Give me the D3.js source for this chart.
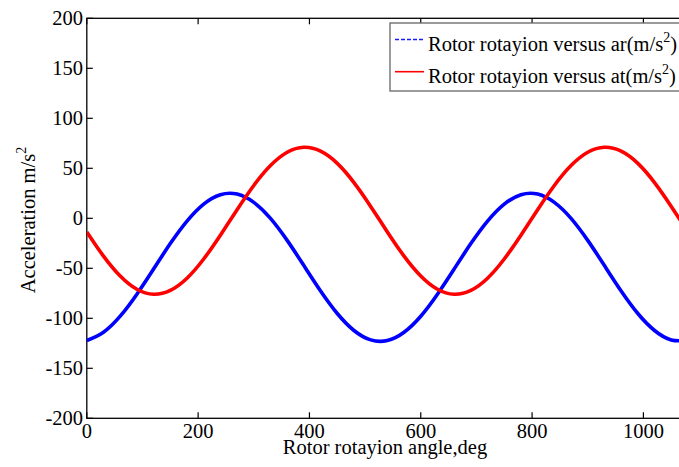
<!DOCTYPE html>
<html><head><meta charset="utf-8">
<script src="https://cdn.jsdelivr.net/npm/d3@7"></script>
<style>body{margin:0;background:#fff}svg{display:block}text{font-family:"Liberation Serif","Times New Roman",serif;fill:#000}</style>
</head><body>
<script>
const angles = [0,30,60,90,120,150,180,210,240,270,300,330,360,390,420,450,480,510,540,570,600,630,660,690,720,750,780,810,840,870,900,930,960,990,1020,1050,1080];
const ar = [-122.2,-113.9,-97.9,-75.9,-50.7,-25.3,-2.8,14.2,23.6,24.2,15.9,-0.1,-22.1,-47.3,-72.7,-95.2,-112.2,-121.6,-122.2,-113.9,-97.9,-75.9,-50.7,-25.3,-2.8,14.2,23.6,24.2,15.9,-0.1,-22.1,-47.3,-72.7,-95.2,-112.2,-121.6,-122.2];
const at = [-13.6,-37.8,-57.7,-71.0,-76.0,-72.1,-59.9,-40.7,-16.9,8.6,32.8,52.7,66.0,71.0,67.1,54.9,35.7,11.9,-13.6,-37.8,-57.7,-71.0,-76.0,-72.1,-59.9,-40.7,-16.9,8.6,32.8,52.7,66.0,71.0,67.1,54.9,35.7,11.9,-13.6];
const xTicks = [0,200,400,600,800,1000];
const yTicks = [-200,-150,-100,-50,0,50,100,150,200];
const legendLabels = ["Rotor rotayion versus ar(m/s", "Rotor rotayion versus at(m/s"];

const W = 679, H = 467;
const svg = d3.select("body").append("svg").attr("width", W).attr("height", H);
const x = d3.scaleLinear().domain([0, 1080]).range([86.8, 86.8 + 1080 * 0.5566]);
const y = d3.scaleLinear().domain([-200, 200]).range([418.3, 18.3]);
const fs = 20.5;

svg.append("defs").append("clipPath").attr("id","clip")
  .append("rect").attr("x", x(0)).attr("y", y(200)).attr("width", x(1080)-x(0)).attr("height", y(-200)-y(200));

// axes box
const g = svg.append("g");
g.append("rect").attr("x", x(0)).attr("y", y(200)).attr("width", x(1080)-x(0)).attr("height", y(-200)-y(200))
  .attr("fill","none").attr("stroke","#000").attr("stroke-width",1.3);

// ticks (inward)
xTicks.forEach(t => {
  g.append("line").attr("x1", x(t)).attr("x2", x(t)).attr("y1", y(-200)).attr("y2", y(-200)-6).attr("stroke","#000").attr("stroke-width",1.2);
  g.append("line").attr("x1", x(t)).attr("x2", x(t)).attr("y1", y(200)).attr("y2", y(200)+6).attr("stroke","#000").attr("stroke-width",1.2);
  g.append("text").attr("x", x(t)).attr("y", 438).attr("text-anchor","middle").attr("font-size", fs).text(t);
});
yTicks.forEach(t => {
  g.append("line").attr("x1", x(0)).attr("x2", x(0)+6).attr("y1", y(t)).attr("y2", y(t)).attr("stroke","#000").attr("stroke-width",1.2);
  g.append("text").attr("x", 83).attr("y", y(t)+7).attr("text-anchor","end").attr("font-size", fs).text(t);
});

// axis labels
g.append("text").attr("x", 385).attr("y", 454).attr("text-anchor","middle").attr("font-size", fs).text("Rotor rotayion angle,deg");
const yl = g.append("text").attr("transform","translate(35,220) rotate(-90)").attr("text-anchor","middle").attr("font-size", fs);
yl.append("tspan").text("Acceleration m/s");
yl.append("tspan").attr("dy",-9).attr("font-size",14).text("2");

// lines
const line = d3.line().x((d,i)=>x(angles[i])).y(d=>y(d)).curve(d3.curveNatural);
const lg = svg.append("g").attr("clip-path","url(#clip)");
lg.append("path").datum(ar).attr("d", line).attr("fill","none").attr("stroke","#0000ff").attr("stroke-width",3.6);
lg.append("path").datum(at).attr("d", line).attr("fill","none").attr("stroke","#ff0000").attr("stroke-width",3.6);

// legend
const leg = svg.append("g");
leg.append("rect").attr("x",390).attr("y",23).attr("width",310).attr("height",68).attr("fill","#fff").attr("stroke","#666").attr("stroke-width",1.3);
const rows = [{c:"#1a1aff", dash:"4,2", w:1.6, yy:39.5},{c:"#ff0000", dash:null, w:1.6, yy:71.7}];
rows.forEach((r,i)=>{
  leg.append("line").attr("x1",395).attr("x2",424).attr("y1",r.yy).attr("y2",r.yy).attr("stroke",r.c).attr("stroke-width",r.w).attr("stroke-dasharray",r.dash);
  const t = leg.append("text").attr("x",428).attr("y",r.yy+11.5).attr("font-size",fs);
  t.append("tspan").text(legendLabels[i]);
  t.append("tspan").attr("dy",-9).attr("font-size",14).text("2");
  t.append("tspan").attr("dy",9).text(")");
});
</script>
</body></html>
